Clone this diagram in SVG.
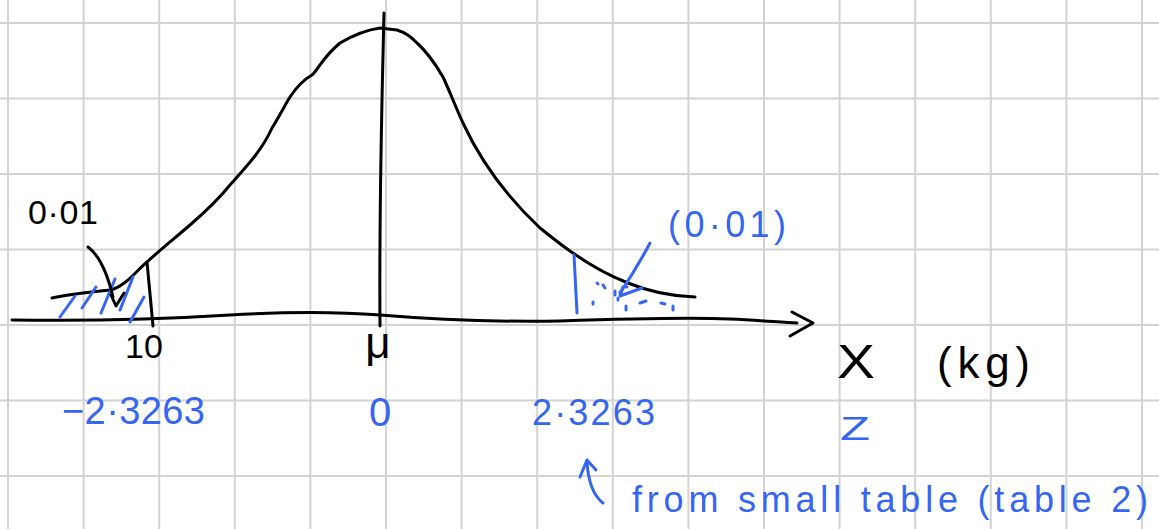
<svg xmlns="http://www.w3.org/2000/svg" width="1159" height="529" viewBox="0 0 1159 529">
<defs>
<style>
.grid line{stroke:#d3d3d3;stroke-width:2}
.ink{fill:none;stroke:#000;stroke-width:3;stroke-linecap:round;stroke-linejoin:round}
.blue{fill:none;stroke:#3566f2;stroke-width:3;stroke-linecap:round;stroke-linejoin:round}
.tb{font-family:"Liberation Sans","DejaVu Sans",sans-serif;fill:#000}
.tbl{font-family:"Liberation Sans","DejaVu Sans",sans-serif;fill:#3566f2}
</style>
</defs>
<rect width="1159" height="529" fill="#fff"/>
<g class="grid">
<line x1="8" y1="0" x2="8" y2="529"/><line x1="83.6" y1="0" x2="83.6" y2="529"/><line x1="159.2" y1="0" x2="159.2" y2="529"/><line x1="234.8" y1="0" x2="234.8" y2="529"/><line x1="310.4" y1="0" x2="310.4" y2="529"/><line x1="386" y1="0" x2="386" y2="529"/><line x1="461.6" y1="0" x2="461.6" y2="529"/><line x1="537.2" y1="0" x2="537.2" y2="529"/><line x1="612.8" y1="0" x2="612.8" y2="529"/><line x1="688.4" y1="0" x2="688.4" y2="529"/><line x1="764" y1="0" x2="764" y2="529"/><line x1="839.6" y1="0" x2="839.6" y2="529"/><line x1="915.2" y1="0" x2="915.2" y2="529"/><line x1="990.8" y1="0" x2="990.8" y2="529"/><line x1="1066.4" y1="0" x2="1066.4" y2="529"/><line x1="1142" y1="0" x2="1142" y2="529"/>
<line x1="0" y1="23" x2="1159" y2="23"/><line x1="0" y1="98.5" x2="1159" y2="98.5"/><line x1="0" y1="174" x2="1159" y2="174"/><line x1="0" y1="249.5" x2="1159" y2="249.5"/><line x1="0" y1="325" x2="1159" y2="325"/><line x1="0" y1="400.5" x2="1159" y2="400.5"/><line x1="0" y1="476" x2="1159" y2="476"/>
</g>
<g id="curve">
<path class="ink" d="M52,298 C70,294 90,292 110,290 C125,287 137,270 147,262 C160,250 175,238 190,225 C205,212 218,200 230,185 C248,165 262,150 272,128 C280,115 285,105 290,97 C296,88 303,80 312,75 C318,70 322,58 340,43 C352,36 365,30 380,28 L397,30 C407,33 412,38 417,43 C425,50 433,60 443,77 C450,92 456,108 463,123 C480,160 505,195 540,228 C555,240 565,248 573,253 C590,265 610,276 628,283 C645,290 665,296 695,297"/>
</g>
<g id="axis">
<path class="ink" d="M12,320 C80,321 150,320 230,315 C280,312 330,311 380,315 C440,320 500,322 560,321 C620,319 680,317 730,319 C760,320 785,323 797,323"/>
<path class="ink" d="M792,312 L813,323 L790,336"/>
</g>
<g id="mean-line"><path class="ink" d="M384,13 C382,100 379,200 380,326"/></g>
<g id="left-cut"><path class="ink" d="M147,262 L153,326"/></g>
<g id="left-tail">
<path class="blue" d="M60,317 L75,296 M82,308 L96,287 M101,313 L115,279 M120,310 L133,277 M130,322 L144,297"/>
</g>
<g id="right-tail">
<path class="blue" d="M574,255 L577,313"/>
<path class="blue" d="M597,283 l1,1 M603,285 l2,3 M593,302 l0,2 M615,291 l0,4 M620,292 l1,1 M618,298 l0,2 M626,306 l0,4 M640,303 l6,-2 M661,303 l4,1 M673,306 l0,4 M626,287 l1,0"/>
</g>
<g id="connectors">
<path class="ink" d="M88,247 C100,256 108,276 113,297"/>
<path class="ink" d="M111,295 L116,306 L124,293"/>
<path class="blue" d="M650,243 C640,262 630,278 620,293"/>
<path class="blue" d="M623,287 L620,296 L642,288"/>
<path class="blue" d="M603,503 C594,496 588,482 587,461"/>
<path class="blue" d="M580,477 L587,460 L596,470"/>
</g>
<g id="labels">
<text class="tb" x="28" y="224" font-size="34" textLength="70" lengthAdjust="spacing">0·01</text>
<text class="tb" x="125" y="358" font-size="34">10</text>
<text class="tb" x="378" y="358" font-size="44" text-anchor="middle">μ</text>
<text class="tb" x="837" y="378" font-size="48" textLength="38" lengthAdjust="spacingAndGlyphs">X</text>
<text class="tb" x="937" y="378" font-size="44" textLength="93" lengthAdjust="spacing">(kg)</text>
<text class="tbl" x="668" y="237" font-size="36" textLength="118" lengthAdjust="spacing">(0·01)</text>
<text class="tbl" x="62" y="424" font-size="38" textLength="143" lengthAdjust="spacing">−2·3263</text>
<text class="tbl" x="380" y="426" font-size="40" text-anchor="middle">0</text>
<text class="tbl" x="532" y="425" font-size="36" textLength="123" lengthAdjust="spacing">2·3263</text>
<text class="tbl" x="840" y="440" font-size="34" textLength="30" lengthAdjust="spacingAndGlyphs">Z</text>
<text class="tbl" x="632" y="512" font-size="36" textLength="516" lengthAdjust="spacing">from small table (table 2)</text>
</g>
</svg>
